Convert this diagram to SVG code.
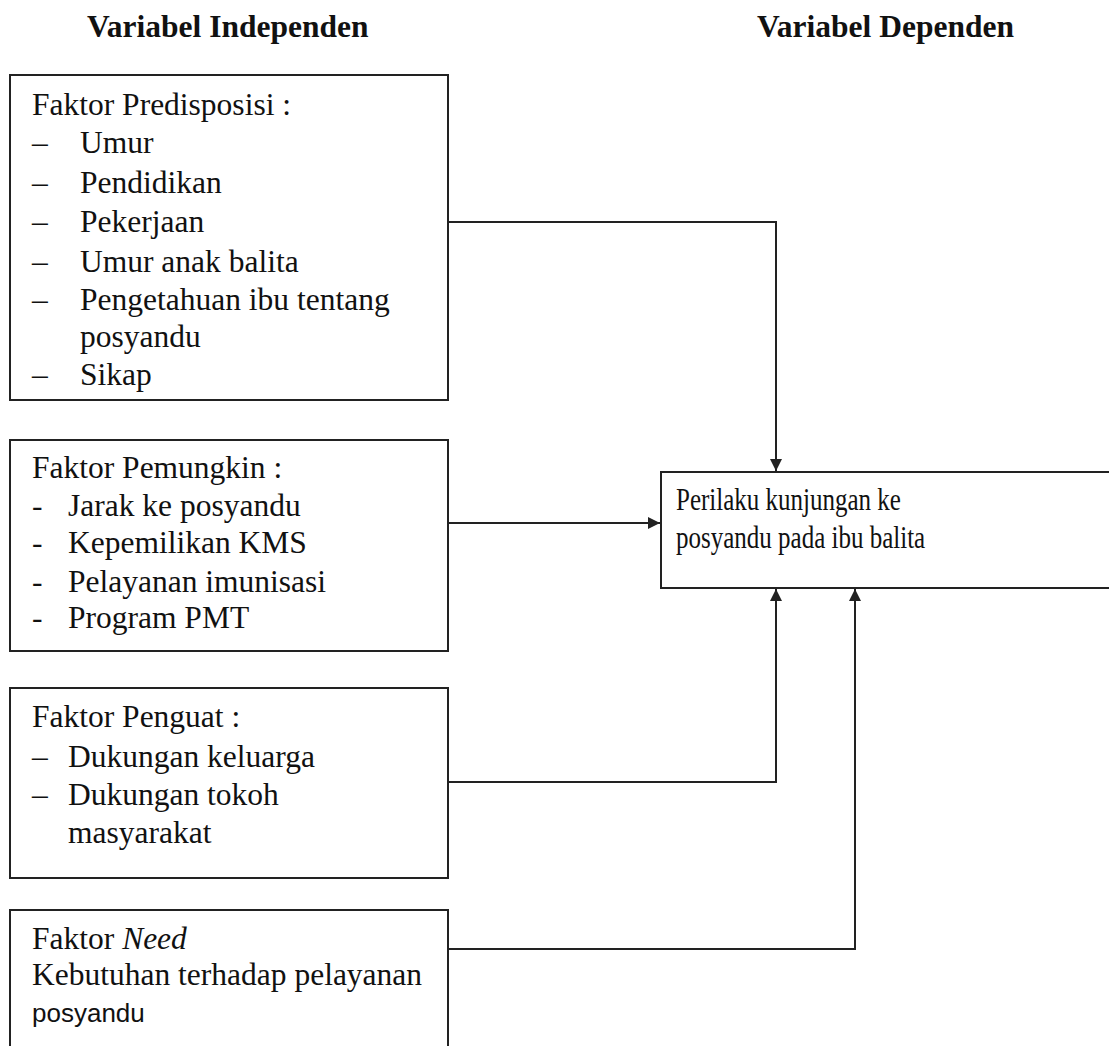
<svg xmlns="http://www.w3.org/2000/svg" width="1109" height="1046" viewBox="0 0 1109 1046">
<style>
text{font-family:"Liberation Serif","Times New Roman",serif;font-size:31.5px;fill:#111}
.h{font-weight:bold}
.box{fill:none;stroke:#222;stroke-width:2}
.conn{fill:none;stroke:#222;stroke-width:2}
.sans{font-family:"Liberation Sans",Arial,sans-serif;font-size:26px}
.cond{font-size:30.5px}
</style>
<defs>
<marker id="arr" viewBox="0 0 10 10" refX="10" refY="5" markerWidth="13" markerHeight="12" markerUnits="userSpaceOnUse" orient="auto">
<path d="M0,0 L10,5 L0,10 z" fill="#222"/>
</marker>
</defs>
<rect width="1109" height="1046" fill="#fff"/>
<text class="h" x="87" y="37">Variabel Independen</text>
<text class="h" x="757" y="37">Variabel Dependen</text>
<g id="predisposisi">
<rect class="box" x="10" y="75" width="438" height="325"/>
<text x="32" y="115">Faktor Predisposisi :</text>
<text x="32" y="153">–</text><text x="80" y="153">Umur</text>
<text x="32" y="193">–</text><text x="80" y="193">Pendidikan</text>
<text x="32" y="232">–</text><text x="80" y="232">Pekerjaan</text>
<text x="32" y="272">–</text><text x="80" y="272">Umur anak balita</text>
<text x="32" y="310">–</text><text x="80" y="310">Pengetahuan ibu tentang</text>
<text x="80" y="347">posyandu</text>
<text x="32" y="385">–</text><text x="80" y="385">Sikap</text>
</g>
<g id="pemungkin">
<rect class="box" x="10" y="440" width="438" height="211"/>
<text x="32" y="478">Faktor Pemungkin :</text>
<text x="32" y="516">-</text><text x="68" y="516">Jarak ke posyandu</text>
<text x="32" y="553">-</text><text x="68" y="553">Kepemilikan KMS</text>
<text x="32" y="592">-</text><text x="68" y="592">Pelayanan imunisasi</text>
<text x="32" y="628">-</text><text x="68" y="628">Program PMT</text>
</g>
<g id="penguat">
<rect class="box" x="10" y="688" width="438" height="190"/>
<text x="32" y="727">Faktor Penguat :</text>
<text x="32" y="767">–</text><text x="68" y="767">Dukungan keluarga</text>
<text x="32" y="805">–</text><text x="68" y="805">Dukungan tokoh</text>
<text x="68" y="843">masyarakat</text>
</g>
<g id="need">
<path class="box" d="M10,1050 V910 H448 V1050"/>
<text x="32" y="949">Faktor <tspan font-style="italic">Need</tspan></text>
<text x="32" y="985">Kebutuhan terhadap pelayanan</text>
<text class="sans" x="32" y="1022">posyandu</text>
</g>
<g id="perilaku">
<path class="box" d="M1112,472 H661 V588 H1112"/>
<text class="cond" transform="translate(676,510) scale(0.82,1)">Perilaku kunjungan ke</text>
<text class="cond" transform="translate(676,548) scale(0.82,1)">posyandu pada ibu balita</text>
</g>
<g id="connectors">
<path class="conn" d="M448,222 H776 V471" marker-end="url(#arr)"/>
<path class="conn" d="M448,523 H660" marker-end="url(#arr)"/>
<path class="conn" d="M448,782 H776 V589" marker-end="url(#arr)"/>
<path class="conn" d="M448,949 H855 V589" marker-end="url(#arr)"/>
</g>
</svg>
